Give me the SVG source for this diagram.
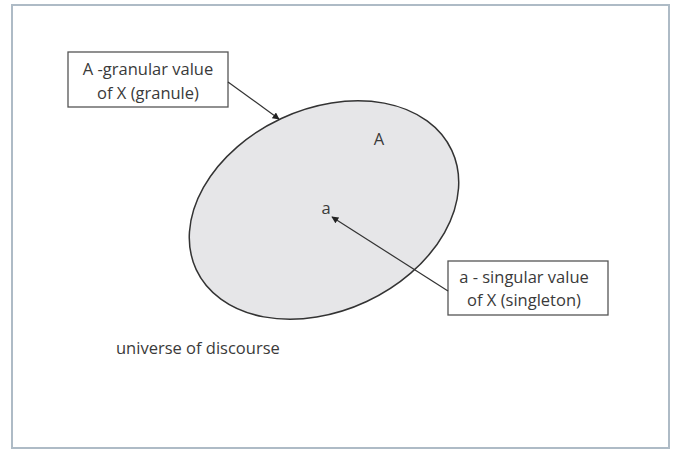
<svg xmlns="http://www.w3.org/2000/svg" width="675" height="450" viewBox="0 0 675 450">
<defs>
<style>
.t{font-family:"Open Sans","Liberation Sans",Arial,sans-serif;font-size:16.5px;fill:#3a3a3a;}
.box{fill:#fff;stroke:#555;stroke-width:1.3;}
.conn{stroke:#333;stroke-width:1.2;fill:none;marker-end:url(#ah);}
</style>
<marker id="ah" viewBox="0 0 10 10" refX="9" refY="5" markerWidth="7" markerHeight="7" markerUnits="userSpaceOnUse" orient="auto">
<path d="M0,0 L10,5 L0,10 z" fill="#222"/>
</marker>
</defs>
<rect width="675" height="450" fill="#fff"/>
<rect x="12" y="5" width="657" height="443" fill="#fff" stroke="#aebbc6" stroke-width="2"/>
<g id="granule">
<ellipse cx="324" cy="210" rx="141" ry="101" transform="rotate(-25 324 210)" fill="#e6e6e8" stroke="#333" stroke-width="1.5"/>
<text class="t" x="379" y="145" text-anchor="middle">A</text>
</g>
<g id="singleton">
<text class="t" x="326" y="214" text-anchor="middle">a</text>
</g>
<g id="label-granular">
<rect class="box" x="68" y="52" width="160" height="55"/>
<text class="t" x="148" y="75" text-anchor="middle">A -granular value</text>
<text class="t" x="148" y="99" text-anchor="middle">of X (granule)</text>
</g>
<g id="label-singular">
<rect class="box" x="448" y="261" width="160" height="54"/>
<text class="t" x="524" y="283" text-anchor="middle">a - singular value</text>
<text class="t" x="524" y="306" text-anchor="middle">of X (singleton)</text>
</g>
<g id="universe">
<text class="t" x="116" y="354">universe of discourse</text>
</g>
<g id="connectors">
<line class="conn" x1="228" y1="82" x2="279" y2="119"/>
<line class="conn" x1="448" y1="291" x2="332" y2="217"/>
</g>
</svg>
